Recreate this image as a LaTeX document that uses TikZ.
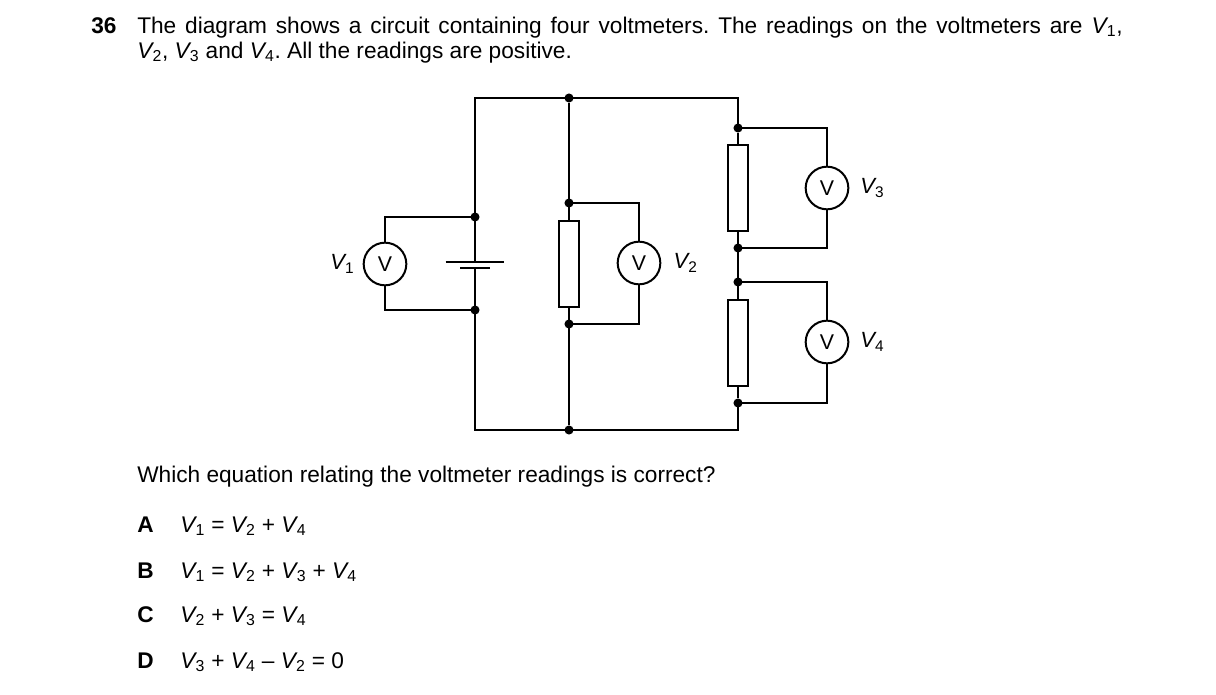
\documentclass[tikz,border=0pt]{standalone}
\usepackage{fontspec}
\setmainfont{Liberation Sans}
\usetikzlibrary{positioning}
\frenchspacing
\newcommand{\Vs}[1]{\textit{V}\kern-1.2pt\textsubscript{#1}}

\begin{document}
\begin{tikzpicture}[x=0.75pt,y=-0.75pt]
      \tikzset{Wire/.style={line width=1.5pt}}
      \tikzset{Res/.style={draw, line width=1.5pt, minimum width=15pt, minimum height=64.5pt, inner sep=0pt}}
      \tikzset{Meter/.style={draw, circle, line width=1.5pt, minimum size=32pt, inner sep=0pt, font=\fontsize{16}{17}\selectfont}}
      \tikzset{Dot/.style={circle, fill, inner sep=0pt, minimum size=6.8pt}}
      \tikzset{Txt/.style={inner sep=0pt, anchor=base west, font=\fontsize{17}{18.75}\selectfont}}
      \tikzset{Lbl/.style={inner sep=0pt, font=\fontsize{16.5}{17}\selectfont}}
      \useasboundingbox (0,0) rectangle (1216,695);

      % text
      \node[Txt] (Num) at (91,33.5) {\bfseries 36};
      \node[Txt, text width=739pt, align=justify] (Quest) at (137,33.5)
        {The diagram shows a circuit containing four voltmeters. The readings on the voltmeters are \Vs{1},\linebreak
         \Vs{2}, \Vs{3} and \Vs{4}. All the readings are positive.};
      \node[Txt] (Ask) at (137,482.3) {Which equation relating the voltmeter readings is correct?};
      \node[Txt] (A) at (137,532.3) {\bfseries A};
      \node[Txt] (B) at (137,578.3) {\bfseries B};
      \node[Txt] (C) at (137,622.3) {\bfseries C};
      \node[Txt] (D) at (137,668.3) {\bfseries D};
      \node[Txt] (EqA) at (180,532.3) {\Vs{1} = \Vs{2} + \Vs{4}};
      \node[Txt] (EqB) at (180,578.3) {\Vs{1} = \Vs{2} + \Vs{3} + \Vs{4}};
      \node[Txt] (EqC) at (180,622.3) {\Vs{2} + \Vs{3} = \Vs{4}};
      \node[Txt] (EqD) at (180,668.3) {\Vs{3} + \Vs{4} – \Vs{2} = 0};

      % circuit
      \coordinate (BatT) at (475,262);
      \coordinate (BatB) at (475,267.5);
      \node[Res] (R2) at (569,264) {};
      \node[Res] (R3) at (738,188) {};
      \node[Res] (R4) at (738,342.5) {};
      \node[Meter] (M1) at (385,264) {V};
      \node[Meter] (M2) at (639,263) {V};
      \node[Meter] (M3) at (827,188) {V};
      \node[Meter] (M4) at (827,342) {V};
      \node[Lbl, left=6pt of M1] (L1) {\Vs{1}};
      \node[Lbl, right=9pt of M2] (L2) {\Vs{2}};
      \node[Lbl, right=8pt of M3] (L3) {\Vs{3}};
      \node[Lbl, right=8pt of M4] (L4) {\Vs{4}};
      \node[Dot] (B1) at (475,217) {};
      \node[Dot] (B2) at (475,310) {};
      \node[Dot] (J1) at (569,98) {};
      \node[Dot] (J2) at (569,430) {};
      \node[Dot] (J3) at (569,203) {};
      \node[Dot] (J4) at (569,324) {};
      \node[Dot] (J5) at (738,128) {};
      \node[Dot] (J6) at (738,248) {};
      \node[Dot] (J7) at (738,282) {};
      \node[Dot] (J8) at (738,403) {};

      \draw[Wire] ([xshift=-22pt]BatT) -- ([xshift=22pt]BatT);
      \draw[Wire] ([xshift=-11pt]BatB) -- ([xshift=11pt]BatB);
      \draw[Wire] (BatT) -- (B1.center) |- (J1.center) -| (J5.center);
      \draw[Wire] (BatB) -- (B2.center) |- (J2.center) -| (J8.center);
      \draw[Wire] (J1) -- (R2);
      \draw[Wire] (R2) -- (J2);
      \draw[Wire] (J5) -- (R3);
      \draw[Wire] (R3) -- (R4);
      \draw[Wire] (R4) -- (J8);
      \draw[Wire] (B1.center) -| (M1);
      \draw[Wire] (M1) |- (B2.center);
      \draw[Wire] (J3.center) -| (M2);
      \draw[Wire] (M2) |- (J4.center);
      \draw[Wire] (J5.center) -| (M3);
      \draw[Wire] (M3) |- (J6.center);
      \draw[Wire] (J7.center) -| (M4);
      \draw[Wire] (M4) |- (J8.center);
    \end{tikzpicture}
\end{document}
